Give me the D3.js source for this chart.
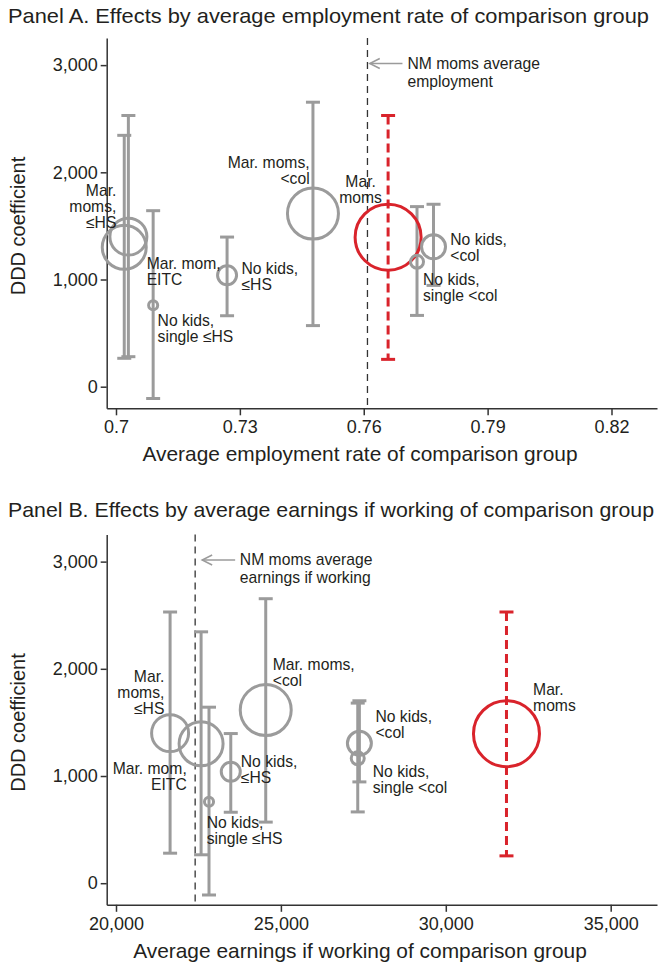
<!DOCTYPE html>
<html>
<head>
<meta charset="utf-8">
<script src="https://cdn.jsdelivr.net/npm/d3@7"></script>
<style>
  body { margin: 0; background: #fff; }
  svg text { font-family: "Liberation Sans", Arial, Helvetica, sans-serif; fill: #231f20; }
</style>
</head>
<body>
<svg id="chart" width="658" height="967"></svg>
<script>
// Comparison groups (same order in both panels)
const groups = ['Mar. moms, ≤HS', 'Mar. mom, EITC', 'No kids, single ≤HS', 'No kids, ≤HS',
  'Mar. moms, <col', 'Mar. moms', 'No kids, single <col', 'No kids, <col'];
const labelLines = [['Mar.', 'moms,', '≤HS'], ['Mar. mom,', 'EITC'], ['No kids,', 'single ≤HS'], ['No kids,', '≤HS'],
  ['Mar. moms,', '<col'], ['Mar.', 'moms'], ['No kids,', 'single <col'], ['No kids,', '<col']];

// Average employment rate / earnings if working of each comparison group
const empRate = [0.7030, 0.7020, 0.7090, 0.7269, 0.7477, 0.7659, 0.7729, 0.7769];
const earnings = [21640, 22580, 22820, 23480, 24540, 31840, 27330, 27380];

// DDD coefficient and confidence interval
const coef = [1400, 1300, 760, 1040, 1615, 1395, 1165, 1305];
const ciLow = [280, 265, -110, 662, 570, 255, 665, 945];
const ciHigh = [2530, 2345, 1642, 1396, 2654, 2530, 1680, 1702];

// Relative weight (circle area)
const weight = [31.4, 44.4, 1.9, 8.3, 59.7, 100, 3.9, 13.2];
const highlight = 'Mar. moms';

// NM moms reference values
const nmEmpRate = 0.7609;
const nmEarnings = 22400;

// Ticks
const yTicks = [0, 1000, 2000, 3000];
const empTicks = [0.70, 0.73, 0.76, 0.79, 0.82];
const earnTicks = [20000, 25000, 30000, 35000];

const gray = '#9b9b9b';
const red = '#d9232b';
const ink = '#231f20';

// label placement: [dx, dy of first baseline from point, anchor]
const layoutA = [[-12, -41, 'end'], [22.4, 21.3, 'start'], [4.4, 21, 'start'], [14.4, -1.7, 'start'],
  [-3.3, -45.7, 'end'], [-27.5, -50.3, 'middle'], [6, 23, 'start'], [16.7, -1.7, 'start']];
const layoutB = [[-5.7, -50.7, 'end'], [-14.3, 30, 'end'], [-2.3, 26.6, 'start'], [10, -5, 'start'],
  [7, -40, 'start'], [26.6, -38.3, 'start'], [15, 18.4, 'start'], [16, -21.6, 'start']];

const panels = [
  {
    top: 0,
    title: 'Panel A. Effects by average employment rate of comparison group',
    titleY: 22.5,
    titleWidth: 641,
    xLabel: 'Average employment rate of comparison group',
    xValues: empRate,
    xDomain: [0.69775, 0.83102],
    xTicks: empTicks,
    xFormat: d => d === 0.7 ? '0.7' : d3.format('.2f')(d),
    ref: nmEmpRate,
    refText: ['NM moms average', 'employment'],
    arrow: { head: 2.3, tail: 35, text: 40 },
    layout: layoutA
  },
  {
    top: 496.5,
    title: 'Panel B. Effects by average earnings if working of comparison group',
    titleY: 20.2,
    titleWidth: 646,
    xLabel: 'Average earnings if working of comparison group',
    xValues: earnings,
    xDomain: [19718, 36404],
    xTicks: earnTicks,
    xFormat: d3.format(','),
    ref: nmEarnings,
    refText: ['NM moms average', 'earnings if working'],
    arrow: { head: 7, tail: 40, text: 44.7 },
    layout: layoutB
  }
];

const svg = d3.select('#chart');
const r = d3.scaleSqrt().domain([0, 100]).range([0, 33]);
const capHalf = 7;

panels.forEach(p => {
  const g = svg.append('g').attr('transform', `translate(0,${p.top})`);

  const x = d3.scaleLinear().domain(p.xDomain).range([106.7, 657]);
  const y = d3.scaleLinear().domain([-201.5, 3253]).range([408.3, 38]);

  // Title
  g.append('text')
    .attr('x', 8)
    .attr('y', p.titleY)
    .attr('textLength', p.titleWidth)
    .attr('lengthAdjust', 'spacingAndGlyphs')
    .style('font-size', '21px')
    .text(p.title);

  // Axes
  const yAxis = g.append('g')
    .attr('transform', `translate(${x.range()[0]},0)`)
    .call(d3.axisLeft(y).tickValues(yTicks).tickFormat(d3.format(',')).tickSize(6).tickSizeOuter(0).tickPadding(3));
  const xAxis = g.append('g')
    .attr('transform', `translate(0,${y.range()[0]})`)
    .call(d3.axisBottom(x).tickValues(p.xTicks).tickFormat(p.xFormat).tickSize(7).tickSizeOuter(0).tickPadding(5));
  [xAxis, yAxis].forEach(a => {
    a.selectAll('.domain, line').attr('stroke', '#333').attr('stroke-width', 1.5);
    a.selectAll('text').style('font-size', '18px').attr('fill', ink);
  });

  g.append('text')
    .attr('transform', `translate(25,226) rotate(-90)`)
    .attr('text-anchor', 'middle')
    .style('font-size', '20px')
    .text('DDD coefficient');

  g.append('text')
    .attr('x', 360)
    .attr('y', 461)
    .attr('text-anchor', 'middle')
    .style('font-size', '20.9px')
    .text(p.xLabel);

  // Reference line
  const rx = x(p.ref);
  g.append('line')
    .attr('x1', rx).attr('x2', rx)
    .attr('y1', y.range()[1]).attr('y2', y.range()[0])
    .attr('stroke', '#333')
    .attr('stroke-width', 1.3)
    .attr('stroke-dasharray', '7,5');

  const ay = y(3015);
  g.append('line')
    .attr('x1', rx + p.arrow.tail).attr('x2', rx + p.arrow.head)
    .attr('y1', ay).attr('y2', ay)
    .attr('stroke', gray).attr('stroke-width', 1.5);
  g.append('path')
    .attr('d', `M${rx + p.arrow.head + 10},${ay - 5}L${rx + p.arrow.head},${ay}L${rx + p.arrow.head + 10},${ay + 5}`)
    .attr('fill', 'none').attr('stroke', gray).attr('stroke-width', 1.5);
  const refLabel = g.append('text')
    .attr('x', rx + p.arrow.text)
    .attr('y', ay + 5)
    .style('font-size', '15.7px');
  refLabel.selectAll('tspan')
    .data(p.refText)
    .enter().append('tspan')
    .attr('x', rx + p.arrow.text)
    .attr('dy', (d, i) => i === 0 ? 0 : 18)
    .text(d => d);

  const data = groups.map((name, i) => ({
    name, lines: labelLines[i], xv: p.xValues[i], coef: coef[i],
    lo: ciLow[i], hi: ciHigh[i], w: weight[i], pos: p.layout[i]
  }));
  const colorOf = d => d.name === highlight ? red : gray;

  // Confidence intervals
  g.selectAll('.ci')
    .data(data)
    .enter().append('line')
    .attr('class', 'ci')
    .attr('x1', d => x(d.xv)).attr('x2', d => x(d.xv))
    .attr('y1', d => y(d.hi)).attr('y2', d => y(d.lo))
    .attr('stroke', colorOf)
    .attr('stroke-width', 3)
    .attr('stroke-dasharray', d => d.name === highlight ? '9,5' : null);

  ['hi', 'lo'].forEach(k => {
    g.selectAll('.cap-' + k)
      .data(data)
      .enter().append('line')
      .attr('class', 'cap-' + k)
      .attr('x1', d => x(d.xv) - capHalf).attr('x2', d => x(d.xv) + capHalf)
      .attr('y1', d => y(d[k])).attr('y2', d => y(d[k]))
      .attr('stroke', colorOf)
      .attr('stroke-width', 3);
  });

  // Point estimates
  g.selectAll('.pt')
    .data(data)
    .enter().append('circle')
    .attr('class', 'pt')
    .attr('cx', d => x(d.xv))
    .attr('cy', d => y(d.coef))
    .attr('r', d => r(d.w))
    .attr('fill', 'none')
    .attr('stroke', colorOf)
    .attr('stroke-width', 3);

  // Group labels
  const labels = g.selectAll('.lbl')
    .data(data)
    .enter().append('text')
    .attr('class', 'lbl')
    .attr('text-anchor', d => d.pos[2])
    .style('font-size', '15.7px');
  labels.each(function(d) {
    const lx = x(d.xv) + d.pos[0];
    const ly = y(d.coef) + d.pos[1];
    d3.select(this).selectAll('tspan')
      .data(d.lines)
      .enter().append('tspan')
      .attr('x', lx)
      .attr('y', (t, i) => ly + i * 16)
      .text(t => t);
  });
});
</script>
</body>
</html>
